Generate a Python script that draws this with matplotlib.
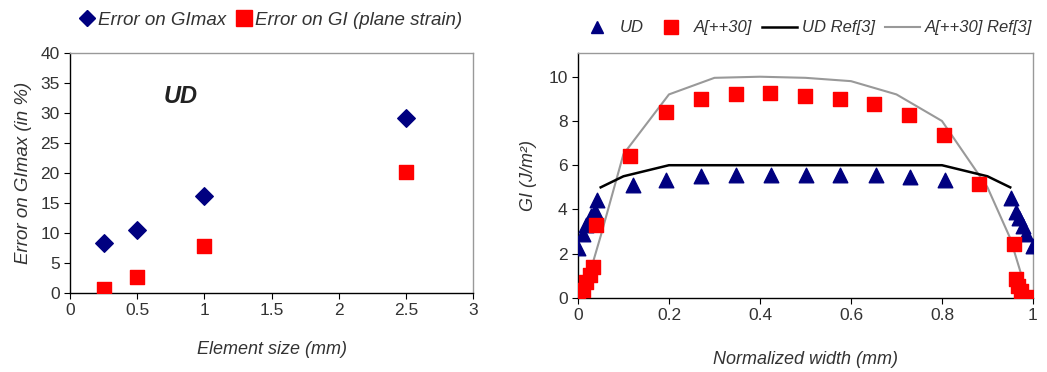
import numpy as np
import matplotlib.pyplot as plt
from matplotlib.lines import Line2D

plt.rcParams['font.family'] = ['Liberation Sans', 'DejaVu Sans']

# left chart: error vs element size
elem_size = [0.25, 0.5, 1.0, 2.5]
err_gimax = [8.4, 10.5, 16.1, 29.2]
err_gi_plane = [0.7, 2.6, 7.9, 20.1]

# right chart: GI along normalized width
ud_x = [0.0, 0.011, 0.018, 0.029, 0.037, 0.042, 0.12, 0.194, 0.271, 0.348, 0.425,
        0.502, 0.577, 0.654, 0.729, 0.806, 0.952, 0.963, 0.97, 0.978, 0.985, 1.0]
ud_y = [2.25, 2.9, 3.3, 3.7, 3.95, 4.45, 5.1, 5.35, 5.5, 5.55, 5.55,
        5.55, 5.55, 5.55, 5.45, 5.35, 4.5, 3.9, 3.6, 3.25, 2.9, 2.35]
a30_x = [0.0, 0.011, 0.018, 0.026, 0.034, 0.039, 0.115, 0.193, 0.271, 0.348, 0.423,
         0.5, 0.575, 0.65, 0.727, 0.804, 0.881, 0.958, 0.963, 0.968, 0.974, 0.985, 1.0]
a30_y = [0.0, 0.35, 0.7, 1.05, 1.4, 3.3, 6.4, 8.4, 9.0, 9.2, 9.25,
         9.12, 9.0, 8.75, 8.25, 7.35, 5.15, 2.45, 0.85, 0.55, 0.3, 0.05, 0.0]
ud_ref_x = [0.05, 0.1, 0.2, 0.8, 0.9, 0.95]
ud_ref_y = [5.0, 5.5, 6.0, 6.0, 5.5, 5.0]
a30_ref_x = [0.01, 0.05, 0.1, 0.2, 0.3, 0.4, 0.5, 0.6, 0.7, 0.8, 0.9, 0.95, 0.99]
a30_ref_y = [0.0, 2.8, 6.5, 9.2, 9.95, 10.0, 9.95, 9.8, 9.2, 8.0, 5.0, 2.7, 0.0]

navy = '#000080'
red = '#ff0000'
txt = '#333333'

fig = plt.figure(figsize=(10.47, 3.72), dpi=100)
ax1 = fig.add_axes([0.0669, 0.2124, 0.385, 0.645])
ax2 = fig.add_axes([0.552, 0.199, 0.4346, 0.659])

def style(ax):
    for s in ['left', 'bottom']:
        ax.spines[s].set_color('black')
        ax.spines[s].set_linewidth(1.0)
    for s in ['top', 'right']:
        ax.spines[s].set_color('#999999')
        ax.spines[s].set_linewidth(1.0)
    ax.tick_params(direction='out', length=4, colors='black', labelcolor=txt, labelsize=12.5)

ax1.scatter(elem_size, err_gimax, marker='D', s=80, color=navy, zorder=3)
ax1.scatter(elem_size, err_gi_plane, marker='s', s=110, color=red, zorder=3)
ax1.set_xlim(0, 3)
ax1.set_ylim(0, 40)
ax1.set_xticks([0, 0.5, 1, 1.5, 2, 2.5, 3])
ax1.set_xticklabels(['0', '0.5', '1', '1.5', '2', '2.5', '3'])
ax1.set_yticks(range(0, 41, 5))
style(ax1)
ax1.set_xlabel('Element size (mm)', fontstyle='italic', color=txt, fontsize=13, labelpad=16)
ax1.set_ylabel('Error on GImax (in %)', fontstyle='italic', color=txt, fontsize=13.5, labelpad=6)
ax1.text(0.82, 32.8, 'UD', fontstyle='italic', fontweight='bold', fontsize=17, color='#222222',
         ha='center', va='center')
h1 = [Line2D([], [], marker='D', color=navy, ls='', ms=8),
      Line2D([], [], marker='s', color=red, ls='', ms=11)]
fig.legend(h1, ['Error on GImax', 'Error on GI (plane strain)'], loc='center',
           bbox_to_anchor=(0.258, 0.945), ncol=2, frameon=False, prop={'style': 'italic', 'size': 13.5},
           labelcolor=txt, handletextpad=0.15, columnspacing=0.5, handlelength=0.9)

ax2.plot(a30_ref_x, a30_ref_y, color='#999999', lw=1.5, zorder=2)
ax2.plot(ud_ref_x, ud_ref_y, color='black', lw=1.8, zorder=2)
ax2.scatter(ud_x, ud_y, marker='^', s=110, color=navy, zorder=3)
ax2.scatter(a30_x, a30_y, marker='s', s=110, color=red, zorder=4)
ax2.set_xlim(0, 1)
ax2.set_ylim(0, 11.08)
ax2.set_xticks([0, 0.2, 0.4, 0.6, 0.8, 1])
ax2.set_xticklabels(['0', '0.2', '0.4', '0.6', '0.8', '1'])
ax2.set_yticks(range(0, 11, 2))
style(ax2)
ax2.set_xlabel('Normalized width (mm)', fontstyle='italic', color=txt, fontsize=13, labelpad=20)
ax2.set_ylabel('GI (J/m²)', fontstyle='italic', color=txt, fontsize=13, labelpad=8)
h2 = [Line2D([], [], marker='^', color=navy, ls='', ms=9),
      Line2D([], [], marker='s', color=red, ls='', ms=10),
      Line2D([], [], color='black', lw=1.8),
      Line2D([], [], color='#999999', lw=1.5)]
fig.legend(h2, ['UD', 'A[++30]', 'UD Ref[3]', 'A[++30] Ref[3]'], loc='center',
           bbox_to_anchor=(0.77, 0.925), ncol=4, frameon=False, prop={'style': 'italic', 'size': 12},
           labelcolor=txt, handletextpad=0.3, columnspacing=0.6, handlelength=2.1)

fig.savefig('out.png', dpi=100)
